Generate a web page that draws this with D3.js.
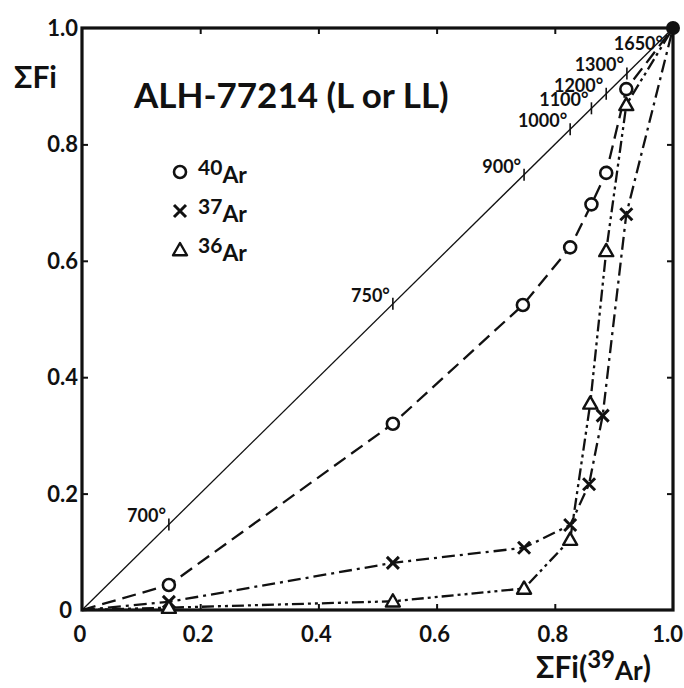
<!DOCTYPE html>
<html><head><meta charset="utf-8">
<script src="https://cdn.jsdelivr.net/npm/d3@7/dist/d3.min.js"></script>
<style>
html,body{margin:0;padding:0;background:#fff;}
svg{display:block;}
text{font-family:Lato,"DejaVu Sans",sans-serif;fill:#111;}
</style></head><body>
<svg id="c" width="684" height="688"></svg>
<script>
// ---- data ----
const tempLabels = ["700°","750°","900°","1000°","1100°","1200°","1300°","1650°"];
const tempX      = [0.147,0.526,0.748,0.826,0.862,0.887,0.922,1.0];

const ar40X = [0.147,0.526,0.746,0.826,0.862,0.887,0.921,1.0];
const ar40Y = [0.043,0.320,0.524,0.623,0.697,0.751,0.895,1.0];
const ar37X = [0.147,0.526,0.748,0.826,0.858,0.881,0.921,1.0];
const ar37Y = [0.014,0.081,0.107,0.146,0.216,0.334,0.680,1.0];
const ar36X = [0.147,0.526,0.748,0.826,0.860,0.887,0.921,1.0];
const ar36Y = [0.004,0.015,0.037,0.121,0.355,0.617,0.868,1.0];

const tickValues = [0,0.2,0.4,0.6,0.8,1.0];
const tickLabels = ["0","0.2","0.4","0.6","0.8","1.0"];
const yTickLabels = ["0","0.2","0.4","0.6","0.8","1.0"];
const legendNames = ["40","37","36"];
const title = "ALH-77214 (L or LL)";

// ---- layout ----
const svg = d3.select("#c");
const L=82, R=673, T=28, B=610;
const x = d3.scaleLinear().domain([0,1]).range([L,R]);
const y = d3.scaleLinear().domain([0,1]).range([B,T]);

// frame
svg.append("rect").attr("x",L).attr("y",T).attr("width",R-L).attr("height",B-T)
  .attr("fill","none").attr("stroke","#111").attr("stroke-width",3.2);

// inward ticks via axes
const inner = [0.2,0.4,0.6,0.8];
function styleTicks(g){ g.select(".domain").remove(); g.selectAll("line").attr("stroke","#111").attr("stroke-width",2); }
svg.append("g").attr("transform",`translate(0,${B})`)
  .call(d3.axisTop(x).tickValues(inner).tickSize(6).tickFormat("")).call(styleTicks);
svg.append("g").attr("transform",`translate(0,${T})`)
  .call(d3.axisBottom(x).tickValues(inner).tickSize(6).tickFormat("")).call(styleTicks);
svg.append("g").attr("transform",`translate(${L},0)`)
  .call(d3.axisRight(y).tickValues(inner).tickSize(6).tickFormat("")).call(styleTicks);
svg.append("g").attr("transform",`translate(${R},0)`)
  .call(d3.axisLeft(y).tickValues(inner).tickSize(6).tickFormat("")).call(styleTicks);

// tick labels
const nT = tickValues.length;
svg.append("g").selectAll("text").data(tickValues).join("text")
  .attr("x",(d,i)=>i===nT-1?683:x(d)-2).attr("y",B+32)
  .attr("text-anchor",(d,i)=>i===nT-1?"end":"middle")
  .attr("font-size",22).attr("font-weight","bold").text((d,i)=>tickLabels[i]);
svg.append("g").selectAll("text").data(tickValues).join("text")
  .attr("x",(d,i)=>i===0?L-10:L-4).attr("y",d=>y(d)+8).attr("text-anchor","end")
  .attr("font-size",22).attr("font-weight","bold").text((d,i)=>yTickLabels[i]);

// axis titles
const yt = svg.append("text").attr("x",14).attr("y",88).attr("font-size",30).attr("font-weight","bold");
yt.append("tspan").text("Σ");
yt.append("tspan").text("Fi");

const xt = svg.append("text").attr("x",536).attr("y",678).attr("font-size",30).attr("font-weight","bold");
xt.append("tspan").text("ΣFi(");
xt.append("tspan").attr("dy",-10).attr("font-size",24).text("39");
xt.append("tspan").attr("dy",12).attr("font-size",26).text("Ar");
xt.append("tspan").attr("dy",-2).text(")");

// title
svg.append("text").attr("x",134).attr("y",108).attr("font-size",35).attr("font-weight","bold").text(title);

// diagonal
svg.append("line").attr("x1",x(0)).attr("y1",y(0)).attr("x2",x(1)).attr("y2",y(1))
  .attr("stroke","#111").attr("stroke-width",1.3);
// temperature ticks
const tg = svg.append("g");
const nTemp = tempX.length;
tempX.forEach((t,i)=>{
  const last = i===nTemp-1;
  if(!last){
    tg.append("line").attr("x1",x(t)).attr("x2",x(t)).attr("y1",y(t)-6).attr("y2",y(t)+6)
      .attr("stroke","#111").attr("stroke-width",1.6);
  }
  tg.append("text").attr("x",x(t)+(last?-10:-3)).attr("y",y(t)+(last?22:-2))
    .attr("text-anchor","end").attr("font-size",18).attr("font-weight","bold").text(tempLabels[i]);
});

// series
const series = [
  {xs:ar40X, ys:ar40Y, dash:"14,7", sym:"circle"},
  {xs:ar37X, ys:ar37Y, dash:"13,5,3,5", sym:"cross"},
  {xs:ar36X, ys:ar36Y, dash:"12,4,3,4,3,4", sym:"tri"}
];
const line = d3.line().x(d=>x(d[0])).y(d=>y(d[1]));
function drawSym(g, sym, cx, cy){
  if(sym==="circle"){
    g.append("circle").attr("cx",cx).attr("cy",cy).attr("r",6)
      .attr("fill","#fff").attr("stroke","#111").attr("stroke-width",2.6);
  } else if(sym==="cross"){
    const s=6;
    g.append("path").attr("d",`M${cx-s},${cy-s}L${cx+s},${cy+s}M${cx-s},${cy+s}L${cx+s},${cy-s}`)
      .attr("stroke","#111").attr("stroke-width",3);
  } else {
    const s=7;
    g.append("path").attr("d",`M${cx},${cy-s}L${cx+s},${cy+s*0.75}L${cx-s},${cy+s*0.75}Z`)
      .attr("fill","#fff").attr("stroke","#111").attr("stroke-width",2.4).attr("stroke-linejoin","round");
  }
}
series.forEach(s=>{
  const pts = [[0,0]].concat(s.xs.map((v,i)=>[v,s.ys[i]]));
  svg.append("path").attr("d",line(pts)).attr("fill","none").attr("stroke","#111")
    .attr("stroke-width",2.3).attr("stroke-dasharray",s.dash);
});
series.forEach(s=>{
  const g = svg.append("g");
  s.xs.forEach((v,i)=>{ if(i<s.xs.length-1) drawSym(g, s.sym, x(v), y(s.ys[i])); });
});
// end dot
svg.append("circle").attr("cx",x(1)).attr("cy",y(1)).attr("r",7).attr("fill","#111");

// legend
const lg = svg.append("g");
const syms = ["circle","cross","tri"];
legendNames.forEach((n,i)=>{
  const cy = 172 + i*39;
  drawSym(lg, syms[i], 180, cy);
  const t = lg.append("text").attr("x",198).attr("y",cy+9).attr("font-size",22).attr("font-weight","bold");
  t.append("tspan").attr("dy",-6).attr("font-size",21).text(n);
  t.append("tspan").attr("dy",8).attr("font-size",23).text("Ar");
});
</script>
</body></html>
